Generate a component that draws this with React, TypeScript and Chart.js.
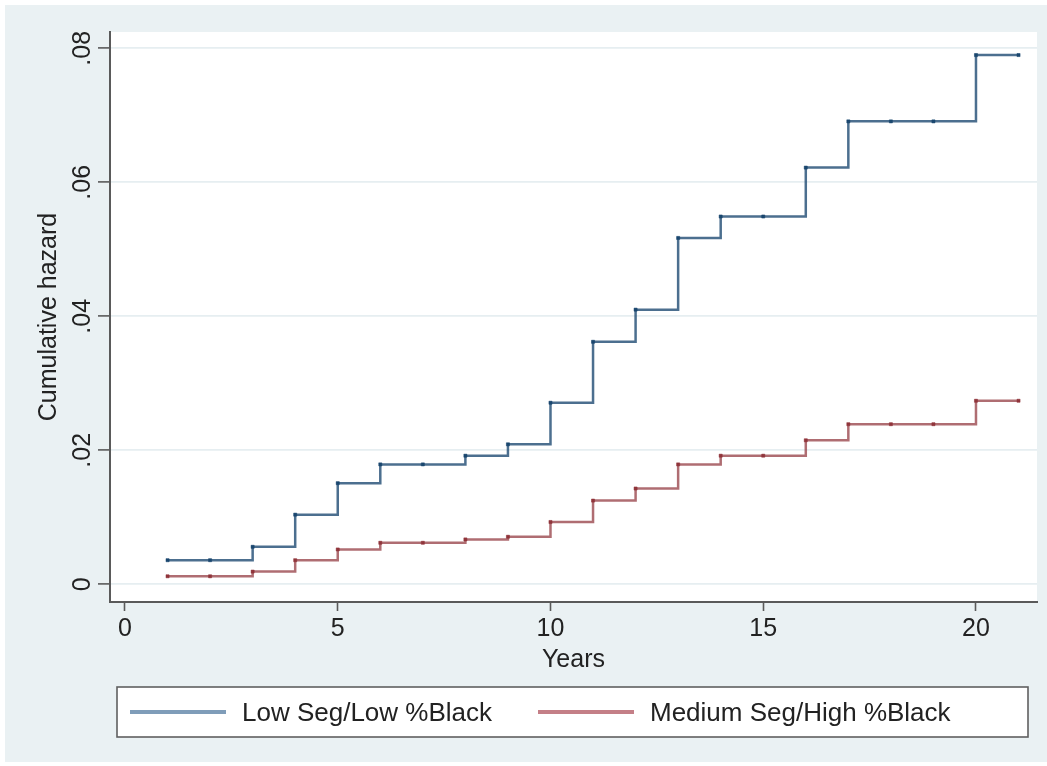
import React, { useEffect, useRef } from "react";
import { Chart, registerables } from "chart.js";

Chart.register(...registerables);

const years = [1, 2, 3, 4, 5, 6, 7, 8, 9, 10, 11, 12, 13, 14, 15, 16, 17, 18, 19, 20, 21];
const lowSegLowBlack = [0.0036, 0.0036, 0.0056, 0.0104, 0.0151, 0.0179, 0.0179, 0.0192, 0.0209, 0.0271, 0.0362, 0.041, 0.0517, 0.0549, 0.0549, 0.0622, 0.0691, 0.0691, 0.0691, 0.079, 0.079];
const medSegHighBlack = [0.0012, 0.0012, 0.0019, 0.0036, 0.0052, 0.0062, 0.0062, 0.0067, 0.0071, 0.0093, 0.0125, 0.0143, 0.0179, 0.0192, 0.0192, 0.0215, 0.0239, 0.0239, 0.0239, 0.0274, 0.0274];
const xTicks = [0, 5, 10, 15, 20];
const yTicks = [0, 0.02, 0.04, 0.06, 0.08];
const seriesLabels = ["Low Seg/Low %Black", "Medium Seg/High %Black"];
const xTitle = "Years";
const yTitle = "Cumulative hazard";

const FONT = "'Liberation Sans', Arial, Helvetica, sans-serif";
const BG = "#eaf1f3";
const AXIS = "#5a5a5a";
const BLUE_LINE = "rgba(26,71,111,0.78)";
const BLUE_PT = "#1a476f";
const RED_LINE = "rgba(144,53,59,0.72)";
const RED_PT = "#90353b";

const bgPlugin = {
  id: "stataBg",
  beforeDraw(chart: any) {
    const { ctx, width, height, chartArea } = chart;
    ctx.save();
    ctx.fillStyle = "#ffffff";
    ctx.fillRect(0, 0, width, height);
    ctx.fillStyle = BG;
    ctx.fillRect(5, 5, width - 5, height - 9);
    ctx.fillStyle = "#ffffff";
    ctx.fillRect(chartArea.left, chartArea.top, chartArea.right - chartArea.left, chartArea.bottom - chartArea.top);
    ctx.restore();
  },
};

const legendPlugin = {
  id: "stataLegend",
  afterDraw(chart: any) {
    const { ctx } = chart;
    ctx.save();
    const bx = 117, by = 687, bw = 911, bh = 50;
    ctx.fillStyle = "#ffffff";
    ctx.fillRect(bx, by, bw, bh);
    ctx.strokeStyle = "#606060";
    ctx.lineWidth = 1.6;
    ctx.strokeRect(bx, by, bw, bh);
    const cy = by + bh / 2;
    const items = [
      { x: 130, tx: 242, color: "#7f9db9" },
      { x: 538, tx: 650, color: "#c47f87" },
    ];
    ctx.font = `26px ${FONT}`;
    ctx.textBaseline = "middle";
    ctx.textAlign = "left";
    items.forEach((it, i) => {
      ctx.strokeStyle = it.color;
      ctx.lineWidth = 4;
      ctx.beginPath();
      ctx.moveTo(it.x, cy);
      ctx.lineTo(it.x + 96, cy);
      ctx.stroke();
      ctx.fillStyle = "#222222";
      ctx.fillText(seriesLabels[i], it.tx, cy + 2);
    });
    ctx.restore();
  },
};

export default function App() {
  const ref = useRef<HTMLCanvasElement | null>(null);
  useEffect(() => {
    document.body.style.margin = "0";
    const canvas = ref.current!;
    const chart = new Chart(canvas, {
      type: "line",
      data: {
        datasets: [
          {
            label: seriesLabels[0],
            data: years.map((x, i) => ({ x, y: lowSegLowBlack[i] })),
            borderColor: BLUE_LINE,
            borderWidth: 2.5,
            stepped: true,
            pointStyle: "rect",
            pointRadius: 2.2,
            pointBackgroundColor: BLUE_PT,
            pointBorderColor: BLUE_PT,
            pointBorderWidth: 0.5,
            fill: false,
          },
          {
            label: seriesLabels[1],
            data: years.map((x, i) => ({ x, y: medSegHighBlack[i] })),
            borderColor: RED_LINE,
            borderWidth: 2.5,
            stepped: true,
            pointStyle: "rect",
            pointRadius: 2.2,
            pointBackgroundColor: RED_PT,
            pointBorderColor: RED_PT,
            pointBorderWidth: 0.5,
            fill: false,
          },
        ],
      },
      options: {
        animation: false,
        responsive: false,
        devicePixelRatio: 1,
        layout: { padding: { left: 0, top: 32, right: 10, bottom: 91 } },
        plugins: { legend: { display: false }, tooltip: { enabled: false } },
        scales: {
          x: {
            type: "linear",
            min: -0.3525,
            max: 21.434,
            afterBuildTicks: (s: any) => {
              s.ticks = xTicks.map((v) => ({ value: v }));
            },
            afterFit: (s: any) => {
              s.height = 73;
            },
            ticks: {
              font: { family: FONT, size: 25 },
              color: "#222222",
              padding: 3,
              maxRotation: 0,
              callback: (v: any) => String(v),
            },
            grid: {
              drawOnChartArea: false,
              drawTicks: true,
              tickLength: 9,
              tickColor: AXIS,
              tickWidth: 1.6,
              color: AXIS,
            },
            border: { display: true, color: AXIS, width: 2 },
            title: {
              display: true,
              text: xTitle,
              font: { family: FONT, size: 25 },
              color: "#222222",
              padding: { top: 0, bottom: 0 },
            },
          },
          y: {
            type: "linear",
            min: -0.00264,
            max: 0.08244,
            afterBuildTicks: (s: any) => {
              s.ticks = yTicks.map((v) => ({ value: v }));
            },
            afterFit: (s: any) => {
              s.width = 110;
            },
            ticks: {
              font: { family: FONT, size: 25 },
              color: "#222222",
              padding: -2,
              minRotation: 90,
              maxRotation: 90,
              crossAlign: "center",
              callback: (v: any) => (v === 0 ? "0" : Number(v).toFixed(2).replace(/^0/, "")),
            },
            grid: {
              drawOnChartArea: true,
              drawTicks: true,
              tickLength: 12,
              color: "#e6eef1",
              lineWidth: 1.8,
              tickColor: AXIS,
              tickWidth: 1.6,
            },
            border: { display: true, color: AXIS, width: 2 },
            title: {
              display: true,
              text: yTitle,
              font: { family: FONT, size: 25 },
              color: "#222222",
              padding: { top: 34, bottom: 0 },
            },
          },
        },
      },
      plugins: [bgPlugin, legendPlugin],
    } as any);
    return () => chart.destroy();
  }, []);
  return <canvas ref={ref} width={1047} height={766} style={{ display: "block" }} />;
}
